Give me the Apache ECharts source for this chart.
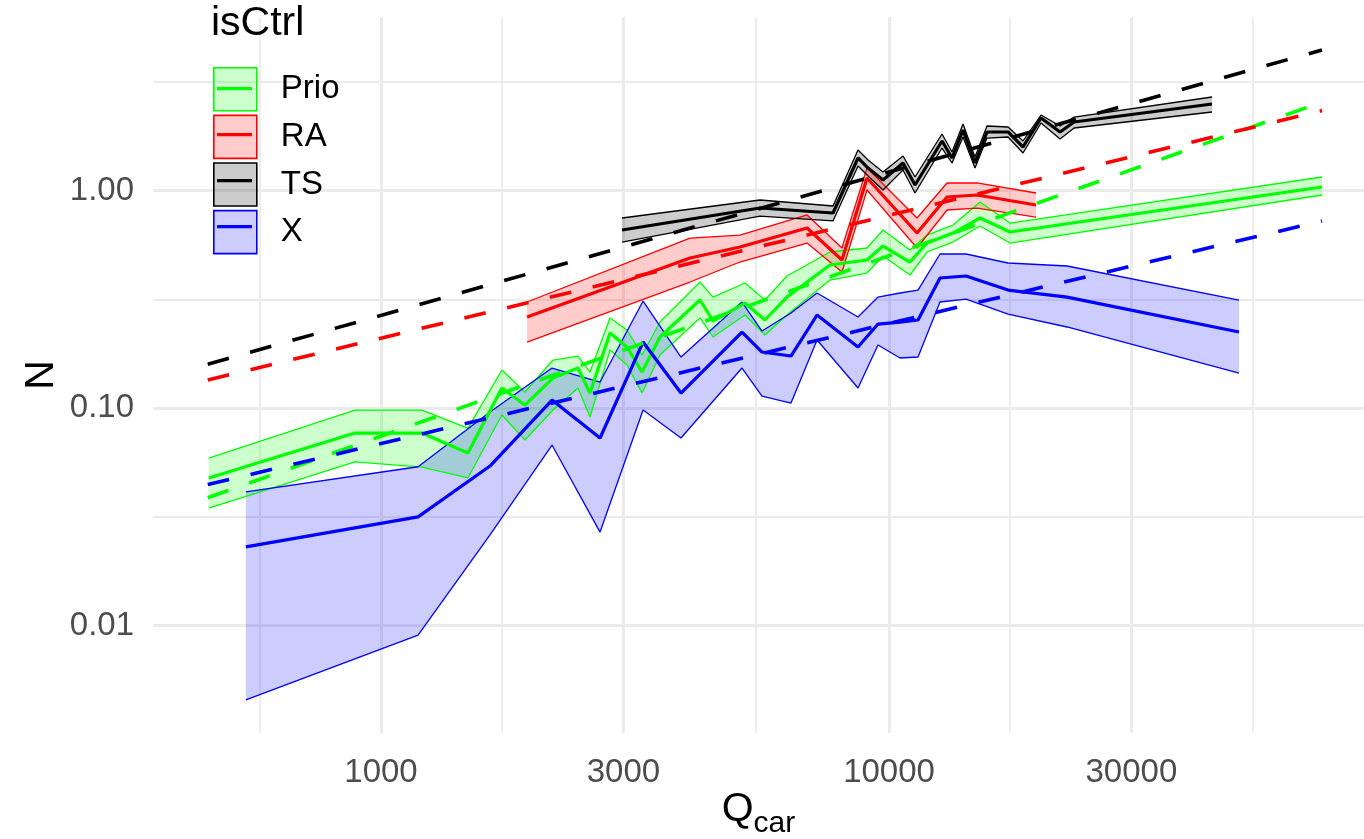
<!DOCTYPE html>
<html>
<head>
<meta charset="utf-8">
<script src="https://cdn.jsdelivr.net/npm/echarts@6/dist/echarts.min.js"></script>
<style>
  html, body { margin: 0; padding: 0; background: #ffffff; }
  #chart { width: 1364px; height: 839px; }
</style>
</head>
<body>
<div id="chart"></div>
<script>
// ---- data: N against Q_car per control type (estimate, lower and upper band) ----
const groups = ['Prio', 'RA', 'TS', 'X'];

const qPrio  = [458, 889, 1204, 1483, 1730, 1920, 2181, 2442, 2579, 2824, 3050, 3265, 3541, 4246, 4504, 5207, 5700, 6297, 7654, 9051, 9732, 10999, 11880, 13366, 15103, 17307, 71189];
const nPrio  = [0.0477, 0.0767, 0.0767, 0.0621, 0.1236, 0.1032, 0.1374, 0.1527, 0.1172, 0.2213, 0.1908, 0.1464, 0.2121, 0.3137, 0.2512, 0.3039, 0.2539, 0.3237, 0.4545, 0.4792, 0.5555, 0.4691, 0.5736, 0.6376, 0.7474, 0.6444, 1.038];
const hiPrio = [0.0589, 0.0979, 0.0979, 0.0809, 0.1495, 0.1185, 0.1662, 0.1734, 0.1464, 0.2594, 0.2284, 0.1752, 0.2485, 0.3796, 0.3237, 0.3756, 0.3137, 0.4045, 0.5215, 0.5441, 0.6583, 0.5325, 0.6242, 0.6940, 0.8853, 0.7087, 1.154];
const loPrio = [0.0347, 0.0565, 0.0535, 0.0477, 0.0929, 0.0713, 0.0979, 0.1236, 0.0909, 0.1848, 0.1576, 0.1172, 0.1752, 0.2594, 0.2121, 0.2677, 0.2166, 0.2677, 0.3877, 0.4175, 0.4999, 0.4089, 0.5215, 0.5797, 0.6867, 0.5736, 0.9535];

const qRA  = [1939, 4058, 5089, 6898, 8080, 9051, 11354, 13010, 14900, 19473];
const nRA  = [0.2621, 0.4895, 0.5497, 0.6725, 0.4792, 1.142, 0.6376, 0.9335, 0.9535, 0.8575];
const hiRA = [0.3072, 0.6047, 0.6242, 0.7718, 0.5441, 1.269, 0.7474, 1.083, 1.083, 0.9739];
const loRA = [0.2011, 0.3796, 0.4691, 0.5736, 0.4219, 1.005, 0.5441, 0.8134, 0.8308, 0.7553];

const qTS  = [2982, 5574, 7758, 8690, 9093, 9732, 10656, 11252, 12717, 13305, 13986, 14766, 15590, 17153, 18356, 19919, 21713, 23135, 43234];
const nTS  = [0.6583, 0.8308, 0.7880, 1.411, 1.269, 1.118, 1.338, 1.060, 1.689, 1.411, 1.897, 1.338, 1.858, 1.858, 1.585, 2.154, 1.858, 2.065, 2.498];
const hiTS = [0.7474, 0.9043, 0.8487, 1.535, 1.381, 1.216, 1.441, 1.154, 1.819, 1.503, 2.022, 1.426, 1.980, 1.959, 1.689, 2.224, 1.980, 2.177, 2.691];
const loTS = [0.5797, 0.7633, 0.7244, 1.296, 1.166, 1.005, 1.242, 0.9739, 1.568, 1.338, 1.762, 1.269, 1.743, 1.762, 1.487, 2.043, 1.725, 1.938, 2.296];

const qX  = [542, 1183, 1639, 2171, 2699, 3280, 3895, 5136, 5623, 6413, 7217, 8690, 9513, 10512, 11405, 12600, 14177, 17153, 22412, 48865];
const nX  = [0.0230, 0.0316, 0.0541, 0.1088, 0.0728, 0.2011, 0.1172, 0.2236, 0.1809, 0.1734, 0.2677, 0.1908, 0.2433, 0.2485, 0.2539, 0.3960, 0.4045, 0.3487, 0.3237, 0.2236];
const hiX = [0.0412, 0.0537, 0.0959, 0.1527, 0.1317, 0.3104, 0.1716, 0.3072, 0.2259, 0.2734, 0.3379, 0.2621, 0.3237, 0.3379, 0.3487, 0.5106, 0.5106, 0.4642, 0.4497, 0.3137];
const loX = [0.00455, 0.00904, 0.0261, 0.0676, 0.0269, 0.0979, 0.0728, 0.1527, 0.1135, 0.1054, 0.2054, 0.1236, 0.1949, 0.1698, 0.1716, 0.3072, 0.3170, 0.2705, 0.2358, 0.1448];

// power-law fits (straight in log-log), at both ends of the Q_car range
const fitQ    = [456, 71190];
const fitPrio = [0.0387, 2.55];
const fitRA   = [0.1345, 2.33];
const fitTS   = [0.159, 4.43];
const fitX    = [0.0445, 0.724];

// axis breaks
const xTicks = [1000, 3000, 10000, 30000];
const xTickLabels = ['1000', '3000', '10000', '30000'];
const yTicks = [0.01, 0.1, 1];
const yTickLabels = ['0.01', '0.10', '1.00'];

// ---- styling ----
const lineColor = { Prio: '#00FF00', RA: '#FF0000', TS: '#000000', X: '#0000FF' };
const bandFill  = { Prio: 'rgba(0,255,0,0.2)', RA: 'rgba(255,0,0,0.2)', TS: 'rgba(0,0,0,0.2)', X: 'rgba(0,0,255,0.2)' };
const FONT = 'Liberation Sans, Arial, sans-serif';

const lg = Math.log10;
// both axes are drawn in log10 units; visible range in log10 units
const xRange = [2.5512, 4.9350];
const yRange = [-2.494, 0.7977];

const majorX = xTicks.map(lg);
const majorY = yTicks.map(lg);
// minor grid lines sit half way between breaks (in log units)
const minorX = [];
for (let i = 0; i < majorX.length - 1; i++) minorX.push((majorX[i] + majorX[i + 1]) / 2);
minorX.unshift(majorX[0] - (majorX[1] - majorX[0]) / 2);
minorX.push(majorX[majorX.length - 1] + (majorX[majorX.length - 1] - majorX[majorX.length - 2]) / 2);
const minorY = [];
for (let i = 0; i < majorY.length - 1; i++) minorY.push((majorY[i] + majorY[i + 1]) / 2);
minorY.unshift(majorY[0] - 0.5);
minorY.push(majorY[majorY.length - 1] + 0.5);

function pairs(q, n) { return q.map((v, i) => [lg(v), lg(n[i])]); }
function labelFor(values, labels, v) {
  for (let i = 0; i < values.length; i++) if (Math.abs(lg(values[i]) - v) < 1e-6) return labels[i];
  return '';
}

const bands = {
  Prio: { q: qPrio, n: nPrio, lo: loPrio, hi: hiPrio, fit: fitPrio },
  RA:   { q: qRA,   n: nRA,   lo: loRA,   hi: hiRA,   fit: fitRA },
  TS:   { q: qTS,   n: nTS,   lo: loTS,   hi: hiTS,   fit: fitTS },
  X:    { q: qX,    n: nX,    lo: loX,    hi: hiX,    fit: fitX }
};

const series = [];
// ribbons (filled area between lower and upper)
groups.forEach(g => {
  const b = bands[g];
  series.push({
    type: 'custom', name: g, silent: true, clip: true,
    data: [[3, -1]],
    renderItem: function (params, api) {
      const pts = [];
      for (let i = 0; i < b.q.length; i++) pts.push(api.coord([lg(b.q[i]), lg(b.hi[i])]));
      for (let i = b.q.length - 1; i >= 0; i--) pts.push(api.coord([lg(b.q[i]), lg(b.lo[i])]));
      return { type: 'polygon', shape: { points: pts }, style: { fill: bandFill[g], stroke: null } };
    }
  });
  ['hi', 'lo'].forEach(k => {
    series.push({
      type: 'line', name: g, silent: true, symbol: 'none',
      data: pairs(b.q, b[k]),
      lineStyle: { color: lineColor[g], width: 1.3 }
    });
  });
});
// estimates
groups.forEach(g => {
  const b = bands[g];
  series.push({
    type: 'line', name: g, silent: true, symbol: 'none',
    data: pairs(b.q, b.n),
    lineStyle: { color: lineColor[g], width: 3.2 }
  });
});
// fitted power laws
groups.forEach(g => {
  const b = bands[g];
  series.push({
    type: 'line', name: g, silent: true, symbol: 'none',
    data: pairs(fitQ, b.fit),
    lineStyle: { color: lineColor[g], width: 3.6, type: [22, 22], cap: 'butt' }
  });
});

const keyBar = 'path://M0,0L0.1,0L0,0.1Z M4,20L39,20L39,23.2L4,23.2Z M43,43L42.9,43L43,42.9Z';

const chart = echarts.init(document.getElementById('chart'), null, { renderer: 'canvas' });
chart.setOption({
  animation: false,
  backgroundColor: '#ffffff',
  title: {
    text: 'isCtrl', left: 211, top: 3, padding: 0,
    textStyle: { fontFamily: FONT, fontSize: 41, fontWeight: 'normal', color: '#000000' }
  },
  legend: [
    {
      orient: 'vertical', left: 213, top: 67, padding: 0, itemGap: 3,
      itemWidth: 43, itemHeight: 43, selectedMode: false,
      data: groups.map(g => ({
        name: g, icon: 'rect',
        itemStyle: { color: bandFill[g], borderColor: lineColor[g], borderWidth: 1.6 }
      })),
      textStyle: { fontFamily: FONT, fontSize: 33, color: '#000000', padding: [0, 0, 0, 19] }
    },
    {
      orient: 'vertical', left: 213, top: 67, padding: 0, itemGap: 3,
      itemWidth: 43, itemHeight: 43, selectedMode: false,
      data: groups.map(g => ({
        name: g, icon: keyBar,
        itemStyle: { color: lineColor[g], borderWidth: 0 }
      })),
      textStyle: { fontFamily: FONT, fontSize: 33, color: 'rgba(0,0,0,0)', padding: [0, 0, 0, 19] }
    }
  ],
  grid: { left: 153, right: 0, top: 17, bottom: 106, containLabel: false, outerBoundsMode: 'none' },
  xAxis: [
    {
      type: 'value', min: xRange[0], max: xRange[1], position: 'bottom',
      axisLine: { show: false },
      axisTick: { show: false, customValues: majorX },
      axisLabel: {
        customValues: majorX, margin: 23,
        fontFamily: FONT, fontSize: 33, color: '#4D4D4D',
        formatter: v => labelFor(xTicks, xTickLabels, v)
      },
      splitLine: { show: true, lineStyle: { color: '#EBEBEB', width: 3 } },
      name: '{q|Q}{s|car}', nameLocation: 'middle', nameGap: 56, nameMoveOverlap: false,
      nameTextStyle: {
        rich: {
          q: { fontFamily: FONT, fontSize: 41, color: '#000000', lineHeight: 41 },
          s: { fontFamily: FONT, fontSize: 30, color: '#000000', lineHeight: 30, padding: [28, 0, 0, 0] }
        }
      }
    },
    {
      type: 'value', min: xRange[0], max: xRange[1], position: 'top',
      axisLine: { show: false },
      axisTick: { show: false, customValues: minorX },
      axisLabel: { show: false, customValues: minorX },
      splitLine: { show: true, lineStyle: { color: '#EBEBEB', width: 1.8 } }
    }
  ],
  yAxis: [
    {
      type: 'value', min: yRange[0], max: yRange[1], position: 'left',
      axisLine: { show: false },
      axisTick: { show: false, customValues: majorY },
      axisLabel: {
        customValues: majorY, margin: 19,
        fontFamily: FONT, fontSize: 33, color: '#4D4D4D',
        formatter: v => labelFor(yTicks, yTickLabels, v)
      },
      splitLine: { show: true, lineStyle: { color: '#EBEBEB', width: 3 } },
      name: 'N', nameLocation: 'middle', nameGap: 91, nameRotate: 90, nameMoveOverlap: false,
      nameTextStyle: { fontFamily: FONT, fontSize: 41, color: '#000000' }
    },
    {
      type: 'value', min: yRange[0], max: yRange[1], position: 'right',
      axisLine: { show: false },
      axisTick: { show: false, customValues: minorY },
      axisLabel: { show: false, customValues: minorY },
      splitLine: { show: true, lineStyle: { color: '#EBEBEB', width: 1.8 } }
    }
  ],
  series: series
});
</script>
</body>
</html>
